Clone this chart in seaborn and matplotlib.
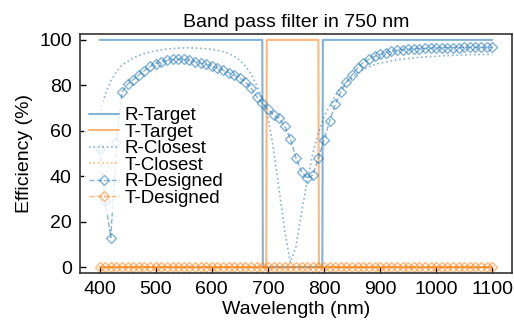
import numpy as np
import pandas as pd
import matplotlib
matplotlib.use("Agg")
import matplotlib.pyplot as plt
import seaborn as sns

# ---- data ----
wavelength = list(range(400, 1101, 10))

r_target_wl = [400, 690, 691, 797, 798, 1100]
r_target = [100, 100, 0, 0, 100, 100]
t_target_wl = [400, 697, 698, 790, 791, 1100]
t_target = [0, 0, 100, 100, 0, 0]

r_closest = [67, 76, 82, 86, 89, 90.5, 92, 93.2, 94, 94.7,
             95.2, 95.6, 96, 96.2, 96.4, 96.5, 96.5, 96.4, 96.3, 96.1,
             95.8, 95.4, 94.8, 94, 92.8, 91, 88.5, 85, 80, 74,
             66, 52, 34, 16, 2, 9, 24, 38, 50, 59,
             66, 71, 75.5, 79, 81.5, 83.5, 85.5, 87, 88.2, 89.1,
             89.8, 90.3, 90.8, 91.2, 91.5, 91.8, 92.1, 92.3, 92.5, 92.7,
             92.8, 93, 93.1, 93.2, 93.3, 93.4, 93.5, 93.5, 93.6, 93.6, 93.6]
t_closest = [0] * 71

r_designed = [52, 29, 13, 55, 77, 80.5, 82.5, 84.5, 86.5, 88.3,
              89.5, 90.3, 91, 91.4, 91.6, 91.5, 91, 90.4, 89.8, 89.2,
              88.5, 87.6, 86.6, 85.6, 84.6, 83.2, 81.5, 78.7, 75, 72.1,
              69.5, 67, 65.5, 62, 56.5, 48, 42, 39, 40.5, 48,
              56, 64.2, 71.6, 77.2, 81.4, 84.6, 87.8, 90, 91.5, 92.7,
              93.6, 94.3, 95, 95.4, 95.7, 95.9, 96.1, 96.2, 96.3, 96.4,
              96.5, 96.5, 96.6, 96.6, 96.6, 96.7, 96.7, 96.7, 96.7, 96.7, 96.7]
t_designed = [0] * 71

title = "Band pass filter in 750 nm"

# ---- style ----
sns.set_theme(style="white")
plt.rcParams["font.family"] = ["Liberation Sans", "DejaVu Sans"]
plt.rcParams["xtick.direction"] = "in"
plt.rcParams["ytick.direction"] = "in"

blue = "tab:blue"
orange = "tab:orange"
alpha = 0.55

fig = plt.figure(figsize=(5.14, 3.26), dpi=100)
ax = fig.add_axes([0.1556, 0.1626, 0.8404, 0.7331])

sns.lineplot(x=r_target_wl, y=r_target, ax=ax, color=blue, alpha=alpha,
             lw=1.5, label="R-Target", sort=False)
sns.lineplot(x=t_target_wl, y=t_target, ax=ax, color=orange, alpha=alpha,
             lw=1.5, label="T-Target", sort=False)
sns.lineplot(x=wavelength, y=r_closest, ax=ax, color=blue, alpha=alpha,
             lw=1.2, linestyle=":", label="R-Closest")
sns.lineplot(x=wavelength, y=t_closest, ax=ax, color=orange, alpha=alpha,
             lw=1.2, linestyle=":", label="T-Closest")
sns.lineplot(x=wavelength, y=r_designed, ax=ax, color=blue, alpha=alpha,
             lw=1.0, linestyle="--", marker="D", markersize=5.5,
             markerfacecolor="none", markeredgecolor=blue, markeredgewidth=1.0,
             label="R-Designed")
sns.lineplot(x=wavelength, y=t_designed, ax=ax, color=orange, alpha=alpha,
             lw=1.0, linestyle="--", marker="D", markersize=5.5,
             markerfacecolor="none", markeredgecolor=orange, markeredgewidth=1.0,
             label="T-Designed")

ax.set_xlim(365, 1135)
ax.set_ylim(-2.6, 102.6)
ax.set_xticks(range(400, 1101, 100))
ax.set_yticks(range(0, 101, 20))
ax.tick_params(axis="both", labelsize=14, length=4, width=1, color="black",
               labelcolor="black", left=True, bottom=True, top=False,
               right=False, pad=6)
for s in ax.spines.values():
    s.set_color("#333333")
    s.set_linewidth(1.2)

ax.set_xlabel("Wavelength (nm)", fontsize=14, labelpad=2, color="black")
ax.set_ylabel("Efficiency (%)", fontsize=14, labelpad=4, color="black")
ax.set_title(title, fontsize=14, pad=5, color="black")

leg = ax.legend(loc="center left", bbox_to_anchor=(0, 0.485), fontsize=13.5,
                frameon=True, framealpha=0.8, edgecolor="none",
                labelspacing=-0.03, handlelength=1.6, borderpad=0.3,
                borderaxespad=0.2, handletextpad=0.27)
for t in leg.get_texts():
    t.set_color("black")

fig.savefig("out.png", dpi=100)
